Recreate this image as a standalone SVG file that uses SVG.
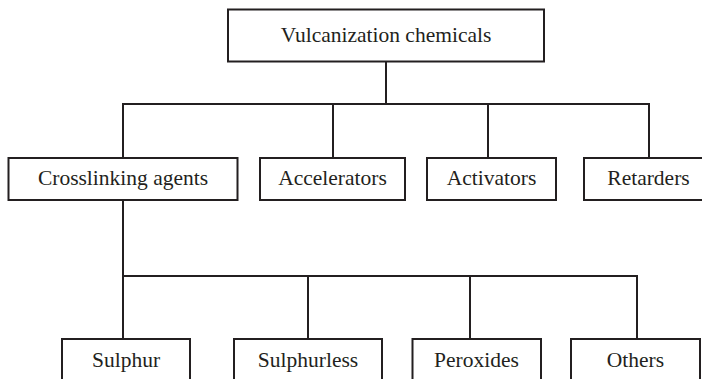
<svg xmlns="http://www.w3.org/2000/svg" width="702" height="379" viewBox="0 0 702 379" font-family="Liberation Serif, DejaVu Serif, Times New Roman, serif">
<style>
.box{fill:#fff;stroke:#231f20;stroke-width:2}
.lbl{font-family:'Liberation Serif','DejaVu Serif','Times New Roman',serif;font-size:21.5px;fill:#231f20;text-anchor:middle}
.con{fill:none;stroke:#231f20;stroke-width:2}
</style>
<rect width="702" height="379" fill="#fff"/>
<g id="connectors" class="con">
<path d="M386 62V104M123 158V104H649V158M333 104V158M488 104V158"/>
<path d="M123 200V276M123 276V339M123 276H637V339M308 276V339M470 276V339"/>
</g>
<g id="vulcanization-chemicals"><rect class="box" x="228" y="9.5" width="316" height="52"/><text class="lbl" font-family="Liberation Serif, serif" x="386" y="42">Vulcanization chemicals</text></g>
<g id="crosslinking-agents"><rect class="box" x="8.5" y="158" width="229" height="42"/><text class="lbl" font-family="Liberation Serif, serif" x="123" y="185">Crosslinking agents</text></g>
<g id="accelerators"><rect class="box" x="260" y="158" width="145" height="42"/><text class="lbl" font-family="Liberation Serif, serif" x="332.5" y="185">Accelerators</text></g>
<g id="activators"><rect class="box" x="427" y="158" width="129" height="42"/><text class="lbl" font-family="Liberation Serif, serif" x="491.5" y="185">Activators</text></g>
<g id="retarders"><rect class="box" x="584" y="158" width="130" height="42"/><text class="lbl" font-family="Liberation Serif, serif" x="648.5" y="185">Retarders</text></g>
<g id="sulphur"><rect class="box" x="62" y="339" width="128" height="60"/><text class="lbl" font-family="Liberation Serif, serif" x="126" y="366.5">Sulphur</text></g>
<g id="sulphurless"><rect class="box" x="234" y="339" width="148" height="60"/><text class="lbl" font-family="Liberation Serif, serif" x="308" y="366.5">Sulphurless</text></g>
<g id="peroxides"><rect class="box" x="412.5" y="339" width="128.5" height="60"/><text class="lbl" font-family="Liberation Serif, serif" x="476.5" y="366.5">Peroxides</text></g>
<g id="others"><rect class="box" x="571" y="339" width="129" height="60"/><text class="lbl" font-family="Liberation Serif, serif" x="635.5" y="366.5">Others</text></g>
</svg>
